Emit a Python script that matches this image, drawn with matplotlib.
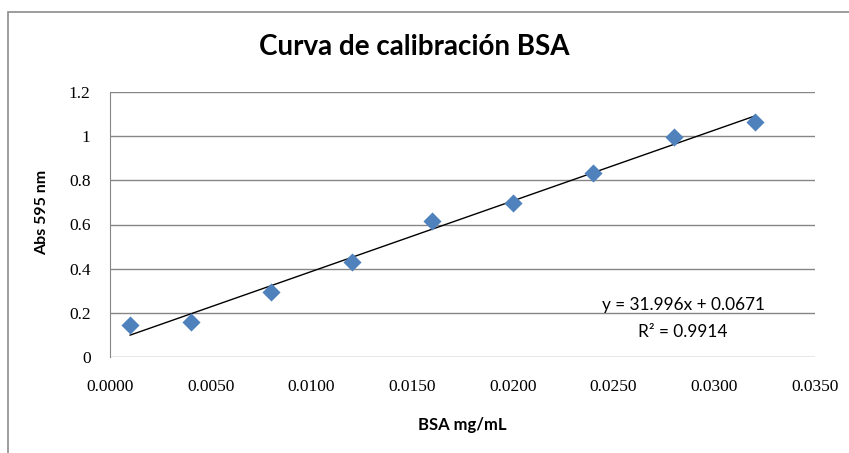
import numpy as np
import matplotlib.pyplot as plt
from matplotlib.patches import Rectangle

# calibration data
bsa = [0.001, 0.004, 0.008, 0.012, 0.016, 0.020, 0.024, 0.028, 0.032]
absorb = [0.145, 0.157, 0.294, 0.429, 0.618, 0.696, 0.834, 0.998, 1.063]
slope = 31.996
intercept = 0.0671
eq_label = "y = 31.996x + 0.0671\nR² = 0.9914"
xticks = np.arange(0, 0.0351, 0.005)
yticks = [0, 0.2, 0.4, 0.6, 0.8, 1, 1.2]
ytick_labels = ["0", "0.2", "0.4", "0.6", "0.8", "1", "1.2"]

sans = ["Lato", "DejaVu Sans"]
serif = ["Liberation Serif", "DejaVu Serif"]

fig = plt.figure(figsize=(8.49, 4.53), dpi=100)
ax = fig.add_axes([110/849, 1 - 357/453, 705/849, 265/453])

# outer chart border (runs off right and bottom edges)
fig.patches.append(Rectangle((8/849, -0.1), 1.2, 1 - 12/453 + 0.1, transform=fig.transFigure,
                             fill=False, edgecolor="#8c8c8c", lw=1.2, clip_on=False))

ax.scatter(bsa, absorb, marker="D", s=85, color="#4F81BD", zorder=3, linewidths=0)

xs = np.array([bsa[0], bsa[-1]])
ax.plot(xs, slope * xs + intercept, color="black", lw=1, zorder=2)

ax.set_xlim(0, 0.035)
ax.set_ylim(0, 1.2)
ax.set_xticks(xticks)
ax.set_xticklabels([f"{v:.4f}" for v in xticks], family=serif, fontsize=12.5)
ax.set_yticks(yticks)
ax.set_yticklabels(ytick_labels, family=serif, fontsize=12.5)
ax.tick_params(length=0)
ax.tick_params(axis="x", pad=16)
ax.tick_params(axis="y", pad=14)

ax.grid(axis="y", color="#868686", lw=1)
ax.set_axisbelow(True)
for s in ["top", "right", "bottom"]:
    ax.spines[s].set_visible(False)
ax.spines["left"].set_color("#868686")

ax.text(0.02845, 0.174, eq_label, ha="center", va="center", family=sans, fontsize=12.4,
        linespacing=1.9)

fig.text(414/849, 1 - 47/453, "Curva de calibración BSA", ha="center", va="center",
         family=sans, fontsize=20, fontweight="bold")
fig.text(462/849, 1 - 425/453, "BSA mg/mL", ha="center", va="center",
         family=sans, fontsize=12, fontweight="bold")
fig.text(42/849, 1 - 212/453, "Abs 595 nm", ha="center", va="center", rotation=90,
         family=sans, fontsize=11.5, fontweight="bold")

fig.savefig("out.png", dpi=100)
